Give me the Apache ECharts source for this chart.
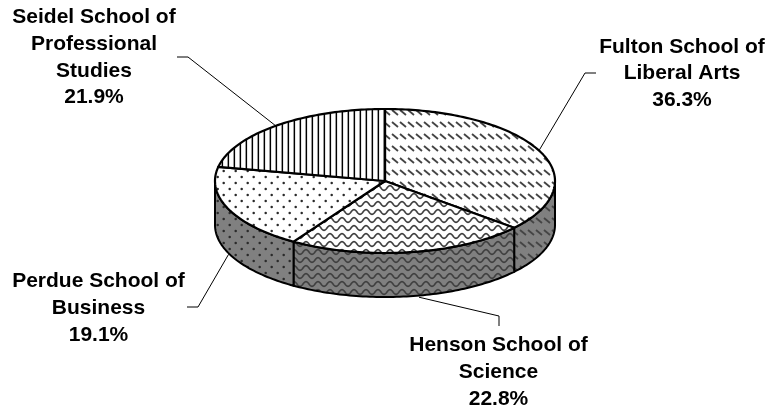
<!DOCTYPE html>
<html><head><meta charset="utf-8">
<style>html,body{margin:0;padding:0;background:#fff}#c{width:769px;height:415px}</style>
<script src="https://cdn.jsdelivr.net/npm/echarts@6/dist/echarts.min.js"></script></head>
<body><div id="c"></div>
<script>
const categories = ['Fulton School of\nLiberal Arts','Henson School of\nScience','Perdue School of\nBusiness','Seidel School of\nProfessional\nStudies'];
const shares = [36.3,22.8,19.1,21.9];
const patternNames = ['diag','wave','dots','vert'];
// layout
const CX=385,CY=181,RX=170,RY=72,DEPTH=44;
const labelCentres=[[682,47],[498.5,345],[98.5,281],[94,17]];
const leaderShift=[[0,-1],[9,1],[0,1],[-2,0]];
const leaderElbows=[[[585,73],[596,73]],[[499,316],[499,326]],[[198,307],[187,307]],[[188,57],[177,57]]];
const LH=[26.5,27,27,26.9];

function tile(w,h,bg,draw){
  const c=document.createElement('canvas');c.width=w;c.height=h;
  const g=c.getContext('2d');
  if(bg){g.fillStyle=bg;g.fillRect(0,0,w,h);}
  draw(g);return {image:c,repeat:'repeat'};
}
const painters={
  diag(g){g.strokeStyle='#444';g.lineWidth=1.8;
    for(let x=-8;x<16;x+=8){g.beginPath();g.moveTo(x,2);g.lineTo(x+6,7);g.stroke();}},
  wave(g){g.strokeStyle='#404040';g.lineWidth=1.6;
    g.beginPath();
    for(let x=-1;x<=13;x+=0.5){const y=4+2.4*Math.cos(x/12*2*Math.PI);x<0?g.moveTo(x,y):g.lineTo(x,y);}
    g.stroke();},
  dots(g){g.fillStyle='#2a2a2a';
    for(const [x,y] of [[1.7,9],[7.7,3]]){g.beginPath();g.arc(x,y,1.25,0,7);g.fill();}},
  vert(g){g.fillStyle='#000';g.fillRect(0,0,1.1,6);g.fillRect(5.6,0,0.4,6);}
};
const sizes={diag:[8,12],wave:[12,8],dots:[12,12],vert:[6,6]};
function pat(name,bg){const s=sizes[name];return tile(s[0],s[1],bg,painters[name]);}
const topFill=patternNames.map(n=>pat(n,'#fff'));
const sideFill=patternNames.map(n=>pat(n,'#808080'));

const total=shares.reduce((a,b)=>a+b,0);
let acc=0;const starts=shares.map(v=>{const s=acc;acc+=v;return s;});
const toA=p=>p/total*2*Math.PI;
const pt=(a,dy=0)=>[CX+RX*Math.sin(a),CY-RY*Math.cos(a)+dy];
function arc(a0,a1,dy){const n=Math.max(2,Math.ceil((a1-a0)/0.02));const r=[];
  for(let i=0;i<=n;i++)r.push(pt(a0+(a1-a0)*i/n,dy));return r;}

function renderSlice(params,api){
  const i=params.dataIndex,v=api.value(0);
  const a0=toA(starts[i]),a1=a0+toA(v);
  const kids=[];
  const s0=Math.max(a0,Math.PI/2),s1=Math.min(a1,Math.PI*1.5);
  if(s1>s0){
    const pts=arc(s0,s1,0).concat(arc(s0,s1,DEPTH).reverse());
    kids.push({type:'polygon',shape:{points:pts},style:{fill:sideFill[i],stroke:'#000',lineWidth:2,lineJoin:'round'}});
  }
  kids.push({type:'polygon',shape:{points:[[CX,CY]].concat(arc(a0,a1,0))},
    style:{fill:topFill[i],stroke:'#000',lineWidth:2.2,lineJoin:'round'}});
  return {type:'group',children:kids};
}
function renderLabel(params,api){
  const i=params.dataIndex,v=api.value(0);
  const mid=toA(starts[i]+v/2);
  const dy=(mid>Math.PI/2&&mid<Math.PI*1.5)?DEPTH:0;
  const p=pt(mid,dy);
  const line=[[p[0]+leaderShift[i][0],p[1]+leaderShift[i][1]]].concat(leaderElbows[i]);
  const lines=categories[i].split('\n').concat(v.toFixed(1)+'%');
  const [lx,ly]=labelCentres[i];
  const kids=[{type:'polyline',shape:{points:line},style:{fill:'none',stroke:'#000',lineWidth:1}}];
  lines.forEach((t,k)=>kids.push({type:'text',x:lx,y:ly+k*LH[i],style:{text:t,fill:'#000',
    font:'bold 21px "Liberation Sans"',align:'center',verticalAlign:'middle'}}));
  return {type:'group',children:kids};
}
const chart=echarts.init(document.getElementById('c'),null,{renderer:'canvas'});
const data=shares.map((v,i)=>({name:categories[i],value:[v]}));
chart.setOption({animation:false,backgroundColor:'#fff',
  series:[
    {type:'custom',coordinateSystem:'none',renderItem:renderLabel,data,silent:true,z:1},
    {type:'custom',coordinateSystem:'none',renderItem:renderSlice,data,silent:true,z:2}
  ]});
</script></body></html>
